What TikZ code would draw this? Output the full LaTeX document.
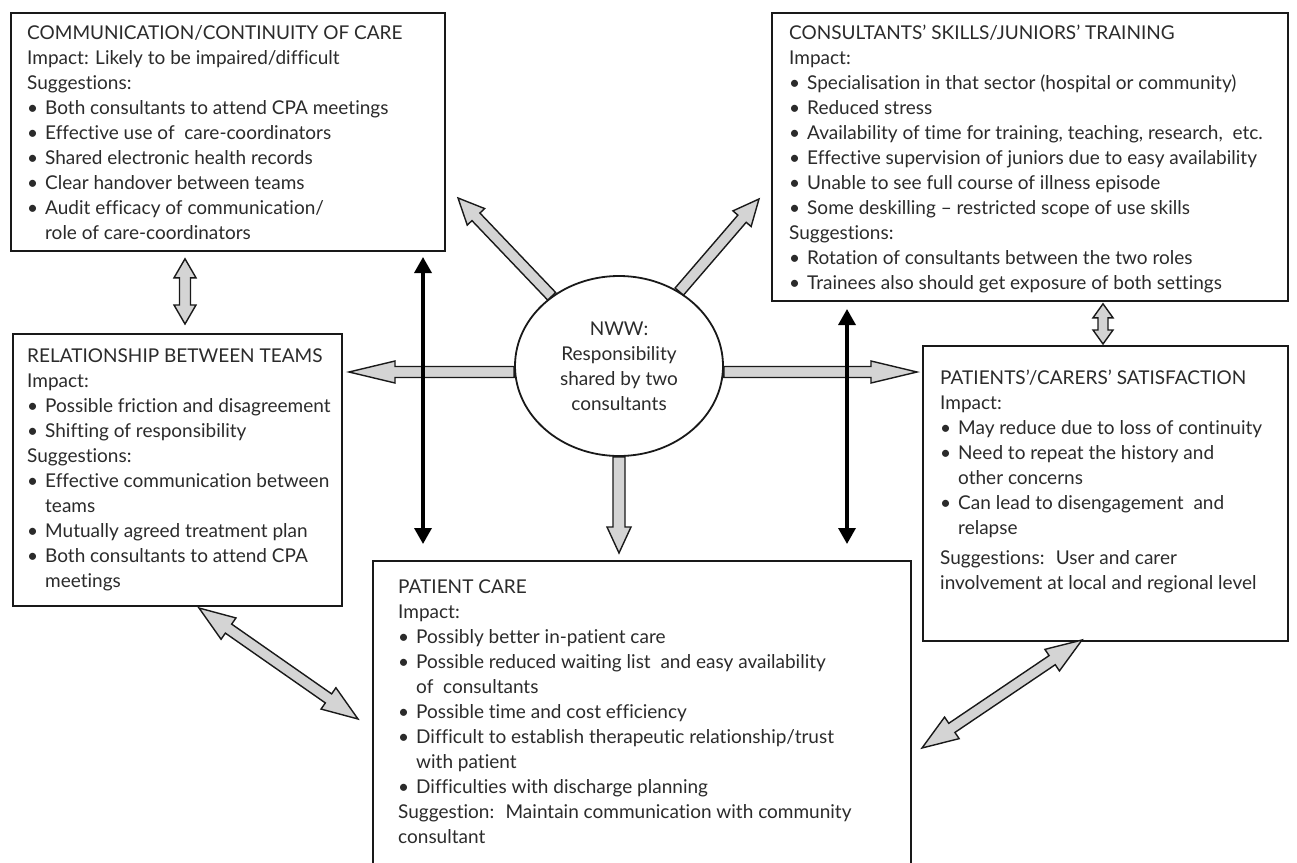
\documentclass[tikz,border=0pt]{standalone}
\usepackage{fontspec}
\setmainfont{Lato}[Ligatures={NoCommon,TeX}]
\usetikzlibrary{shapes.geometric,arrows.meta,calc}
\definecolor{arrowgray}{HTML}{D4D4D4}
\definecolor{txtgray}{HTML}{2B2B2B}
\newlength\bi
\newcommand{\bl}[1]{\makebox[\bi][l]{\textbullet}#1}
\newcommand{\cont}[1]{\hspace*{\bi}#1}
% single hollow arrow: tail, tip, shaft half width, head half width, head length
\newcommand{\hollowsingle}[5]{%
  \path ($(#2)!#5!(#1)$) coordinate (hbone);
  \filldraw[hollowstyle]
    ($(#1)!#3!90:(#2)$) -- ($(hbone)!#3!90:(#2)$) -- ($(hbone)!#4!90:(#2)$) -- (#2)
    -- ($(hbone)!#4!-90:(#2)$) -- ($(hbone)!#3!-90:(#2)$) -- ($(#1)!#3!-90:(#2)$) -- cycle;}
% double hollow arrow
\newcommand{\hollowdouble}[5]{%
  \path ($(#2)!#5!(#1)$) coordinate (hbone) ($(#1)!#5!(#2)$) coordinate (hbtwo);
  \filldraw[hollowstyle]
    (#1) -- ($(hbtwo)!#4!90:(#2)$) -- ($(hbtwo)!#3!90:(#2)$) -- ($(hbone)!#3!90:(#2)$)
    -- ($(hbone)!#4!90:(#2)$) -- (#2) -- ($(hbone)!#4!-90:(#2)$) -- ($(hbone)!#3!-90:(#2)$)
    -- ($(hbtwo)!#3!-90:(#2)$) -- ($(hbtwo)!#4!-90:(#2)$) -- cycle;}
\tikzset{
  box/.style={draw=black!90, line width=1.8pt, rectangle, anchor=north west, inner sep=0pt},
  boxtext/.style={anchor=north west, inner sep=0pt, align=left, text=txtgray,
    font=\fontsize{19}{25}\selectfont},
  hollowstyle/.style={fill=arrowgray, draw=black!90, line width=1.4pt, line join=miter},
  blackarrow/.style={draw=black, line width=3.4pt, {Triangle[width=17pt,length=16pt]}-{Triangle[width=17pt,length=16pt]}},
}
\begin{document}
\begin{tikzpicture}[x=1pt,y=-1pt]
\useasboundingbox (0,0) rectangle (1297,862);
\fill[white] (0,0) rectangle (1297,862);

% boxes
\node[box, minimum width=434pt, minimum height=238pt] (boxA) at (10,12) {};
\node[box, minimum width=516pt, minimum height=288pt] (boxB) at (771,12) {};
\node[box, minimum width=329pt, minimum height=272pt] (boxC) at (12,333) {};
\node[box, minimum width=365pt, minimum height=295pt] (boxD) at (922,345) {};
\node[box, minimum width=538pt, minimum height=320pt] (boxE) at (372,560) {};

% texts
\setlength\bi{18pt}
\node[boxtext] (txtA) at (27,25) {COMMUNICATION/CONTINUITY OF CARE\\
Impact: Likely to be impaired/difficult\\
Suggestions:\\
\bl{Both consultants to attend CPA meetings}\\
\bl{Effective use of \ care-coordinators}\\
\bl{Shared electronic health records}\\
\bl{Clear handover between teams}\\
\bl{Audit efficacy of communication/}\\
\cont{role of care-coordinators}};

\node[boxtext] (txtB) at (789,25) {\setlength\bi{13pt}CONSULTANTS’ SKILLS/JUNIORS’ TRAINING\\
Impact:\\
\bl{Specialisation in that sector (hospital or community)}\\
\bl{Reduced stress}\\
\bl{Availability of time for training, teaching, research, \ etc.}\\
\bl{Effective supervision of juniors due to easy availability}\\
\bl{Unable to see full course of illness episode}\\
\bl{Some deskilling – restricted scope of use skills}\\
Suggestions:\\
\bl{Rotation of consultants between the two roles}\\
\bl{Trainees also should get exposure of both settings}};

\node[boxtext] (txtC) at (27,349) {\setlength\bi{12pt}RELATIONSHIP BETWEEN TEAMS\\
Impact:\\
\bl{Possible friction and disagreement}\\
\bl{Shifting of responsibility}\\
Suggestions:\\
\bl{Effective communication between}\\
\cont{teams}\\
\bl{Mutually agreed treatment plan}\\
\bl{Both consultants to attend CPA}\\
\cont{meetings}};

\node[boxtext] (txtD) at (940,370) {\setlength\bi{19pt}PATIENTS’/CARERS’ SATISFACTION\\
Impact:\\
\bl{May reduce due to loss of continuity}\\
\bl{Need to repeat the history and}\\
\cont{other concerns}\\
\bl{Can lead to disengagement \ and}\\
\cont{relapse}\\[5pt]
Suggestions: \ User and carer\\
involvement at local and regional level};

\node[boxtext] (txtE) at (398,580) {\setlength\bi{16pt}PATIENT CARE\\
Impact:\\
\bl{Possibly better in-patient care}\\
\bl{Possible reduced waiting list \ and easy availability}\\
\cont{of \ consultants}\\
\bl{Possible time and cost efficiency}\\
\bl{Difficult to establish therapeutic relationship/trust}\\
\cont{with patient}\\
\bl{Difficulties with discharge planning}\\
Suggestion: \ Maintain communication with community\\
consultant};

% central ellipse
\node[ellipse, draw=black!90, line width=1.8pt, fill=white, minimum width=208pt, minimum height=180pt,
  inner sep=0pt, align=center, text=txtgray, font=\fontsize{19}{25}\selectfont] (ell) at (619,366)
  {NWW:\\Responsibility\\shared by two\\consultants};

% free ends of connectors
\coordinate (tipA) at (458,198);
\coordinate (tipB) at (759,199);
\coordinate (tipC) at (349,372);
\coordinate (tipD) at (917,372);
\coordinate (tipE) at (619,553);
\coordinate (ac1) at ($(boxA.south west)+(175,7)$);
\coordinate (ac2) at ($(boxC.north west)+(173,-9)$);
\coordinate (bd1) at ($(boxB.south west)+(332,2)$);
\coordinate (bd2) at ($(boxD.north west)+(181,-1)$);
\coordinate (ce1) at (199,608);
\coordinate (ce2) at (358,719);
\coordinate (de1) at (1082,640);
\coordinate (de2) at (922,748);
\coordinate (bl1) at (423,257);
\coordinate (bl2) at (423,544);
\coordinate (br1) at (847,309);
\coordinate (br2) at (847,544);

% hollow arrows from the ellipse
\hollowsingle{ell.134}{tipA}{5.5pt}{12pt}{26pt}
\hollowsingle{ell.51}{tipB}{5.5pt}{12pt}{26pt}
\hollowsingle{ell.west |- tipC}{tipC}{5.5pt}{11pt}{46pt}
\hollowsingle{ell.east |- tipD}{tipD}{5.5pt}{11pt}{46pt}
\hollowsingle{ell.south}{tipE}{6pt}{12pt}{26pt}

% hollow double arrows between boxes
\hollowdouble{ac1}{ac2}{5.5pt}{11pt}{19pt}
\hollowdouble{bd1}{bd2}{5pt}{10pt}{14pt}
\hollowdouble{ce1}{ce2}{5.5pt}{13pt}{36pt}
\hollowdouble{de1}{de2}{5.5pt}{13pt}{36pt}

% black double arrows
\draw[blackarrow] (bl1) -- (bl2);
\draw[blackarrow] (br1) -- (br2);
\end{tikzpicture}
\end{document}
